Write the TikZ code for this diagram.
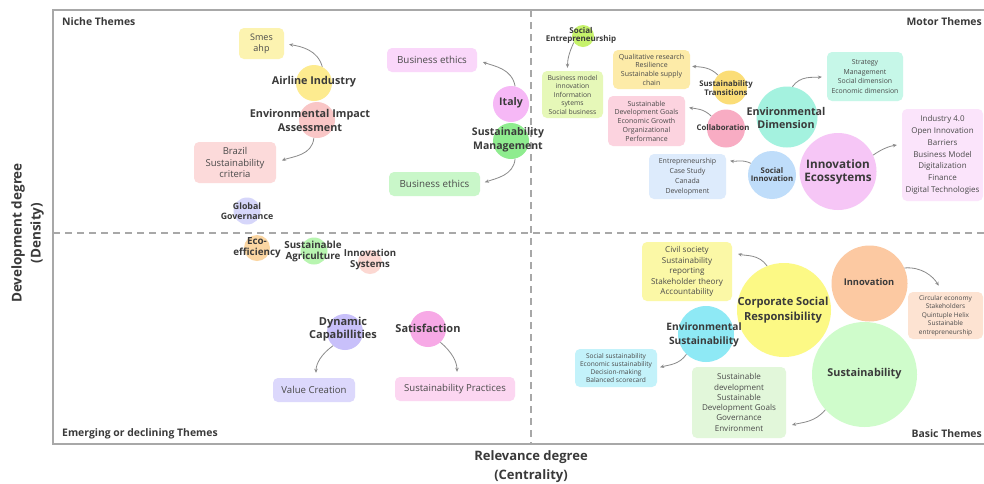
\documentclass[tikz,border=0pt]{standalone}
\usepackage{fontspec}
\setmainfont{Open Sans}
\usetikzlibrary{arrows.meta}
\definecolor{txtc}{HTML}{3A3A3A}
\definecolor{boxtxt}{HTML}{4A4A4A}
\definecolor{framec}{HTML}{A8A8A8}
\definecolor{arrc}{HTML}{8A8A8A}
\definecolor{cSmes}{HTML}{FCF3B0}
\definecolor{cAir}{HTML}{FDEB8F}
\definecolor{cEia}{HTML}{F9C6C6}
\definecolor{cBrazil}{HTML}{FCDADA}
\definecolor{cGG}{HTML}{D6D6FA}
\definecolor{cBeA}{HTML}{FAD7FA}
\definecolor{cItaly}{HTML}{F6B8F6}
\definecolor{cSM}{HTML}{8FEC8F}
\definecolor{cBeB}{HTML}{C9F7C9}
\definecolor{cSocEnt}{HTML}{C6F26B}
\definecolor{cSocEntB}{HTML}{E6F8B8}
\definecolor{cQual}{HTML}{FDEBA8}
\definecolor{cST}{HTML}{FBDD77}
\definecolor{cSDG}{HTML}{FCD3DF}
\definecolor{cCollab}{HTML}{F8ACC3}
\definecolor{cEnvDim}{HTML}{A4F2DF}
\definecolor{cStrat}{HTML}{C6F7E8}
\definecolor{cSocInn}{HTML}{BFDDFA}
\definecolor{cEntre}{HTML}{DDEBFC}
\definecolor{cInnoEco}{HTML}{F6C6F6}
\definecolor{cIndus}{HTML}{FBE4FB}
\definecolor{cEco}{HTML}{FBD6A2}
\definecolor{cSA}{HTML}{B8F5B0}
\definecolor{cIS}{HTML}{FCD8D2}
\definecolor{cDyn}{HTML}{C8C0FA}
\definecolor{cValue}{HTML}{DCD8FC}
\definecolor{cSat}{HTML}{F7A9E6}
\definecolor{cSP}{HTML}{FCD6F1}
\definecolor{cCivil}{HTML}{FBF8A6}
\definecolor{cCSR}{HTML}{FCF985}
\definecolor{cEnvSus}{HTML}{8EE9F5}
\definecolor{cSocSus}{HTML}{C3F2FA}
\definecolor{cSDev}{HTML}{E2F7DA}
\definecolor{cInnov}{HTML}{FCC9A2}
\definecolor{cCirc}{HTML}{FDE3D2}
\definecolor{cSust}{HTML}{CFFCCB}
\newcommand{\fsz}[2]{\fontsize{#1}{#2}\selectfont}
\tikzset{
  bub/.style={circle, inner sep=0pt, minimum size=#1, draw=none},
  lab/.style={text=txtc, align=center, inner sep=0pt},
  tbox/.style={rounded corners=5pt, align=center, text=boxtxt, inner sep=0pt},
  arr/.style={-{Stealth[length=4pt,width=3.5pt]}, draw=arrc, line width=0.8pt},
  ttl/.style={text=txtc, inner sep=0pt, font=\bfseries\fsz{10.4}{12}},
  quadline/.style={draw=framec, line width=1.3pt, dash pattern=on 7pt off 5pt},
}
\begin{document}
\begin{tikzpicture}[x=1pt,y=-1pt]
\useasboundingbox (0,0) rectangle (984,483);
\fill[white] (0,0) rectangle (984,483);
% frame
\draw[framec, line width=1.5pt] (984,10) -- (53,10) -- (53,444) -- (984,444);
\draw[quadline] (53,233) -- (984,233);
\draw[quadline] (531,10) -- (531,444);
% titles
\node[ttl, anchor=west] (tNiche) at (62,22) {Niche Themes};
\node[ttl, anchor=east] (tMotor) at (982,22) {Motor Themes};
\node[ttl, anchor=west] (tEmerg) at (62,434) {Emerging or declining Themes};
\node[ttl, anchor=east] (tBasic) at (982,434) {Basic Themes};
\node[lab, rotate=90, font=\bfseries\fsz{13.5}{19}] (yax) at (27.5,233) {Development degree\\(Density)};
\node[lab, font=\bfseries\fsz{13}{19}] (xax) at (531,467) {Relevance degree\\(Centrality)};

% ---------- boxes ----------
\node[tbox, fill=cSmes, minimum width=45pt, minimum height=31pt, font=\fsz{9}{11}] (smes) at (261.5,43.5) {Smes\\ahp};
\node[tbox, fill=cBrazil, minimum width=82pt, minimum height=41pt, font=\fsz{9.5}{11.5}] (brazil) at (235,162.5) {Brazil\\Sustainability\\criteria};
\node[tbox, fill=cBeA, minimum width=90pt, minimum height=24pt, font=\fsz{9.8}{11}] (beA) at (432,60) {Business ethics};
\node[tbox, fill=cBeB, minimum width=91pt, minimum height=24pt, font=\fsz{9.8}{11}] (beB) at (434.5,184) {Business ethics};
\node[tbox, fill=cSocEntB, minimum width=61pt, minimum height=47pt, font=\fsz{6.8}{8.5}] (socentB) at (572.5,94.5) {Business model\\innovation\\Information\\sytems\\Social business};
\node[tbox, fill=cQual, minimum width=77pt, minimum height=39pt, font=\fsz{7}{8.7}] (qual) at (651.5,69.5) {Qualitative research\\Resilience\\Sustainable supply\\chain};
\node[tbox, fill=cSDG, minimum width=77pt, minimum height=50pt, font=\fsz{7}{8.8}] (sdg) at (646.5,121) {Sustainable\\Development Goals\\Economic Growth\\Organizational\\Performance};
\node[tbox, fill=cStrat, minimum width=76pt, minimum height=49pt, font=\fsz{6.9}{9.8}] (strat) at (865,76.5) {Strategy\\Management\\Social dimension\\Economic dimension};
\node[tbox, fill=cEntre, minimum width=77pt, minimum height=45pt, font=\fsz{7}{10}] (entre) at (687.5,176.5) {Entrepreneurship\\Case Study\\Canada\\Development};
\node[tbox, fill=cIndus, minimum width=81pt, minimum height=92pt, font=\fsz{8}{11.8}] (indus) at (942.5,155) {Industry 4.0\\Open Innovation\\Barriers\\Business Model\\Digitalization\\Finance\\Digital Technologies};
\node[tbox, fill=cValue, minimum width=82pt, minimum height=24pt, font=\fsz{9.6}{11}] (value) at (314,390) {Value Creation};
\node[tbox, fill=cSP, minimum width=120pt, minimum height=24pt, font=\fsz{9.6}{11}] (sp) at (455,389) {Sustainability Practices};
\node[tbox, fill=cCivil, minimum width=90pt, minimum height=59pt, font=\fsz{8.1}{10.4}] (civil) at (687,271.5) {Civil society\\Sustainability\\reporting\\Stakeholder theory\\Accountability};
\node[tbox, fill=cSocSus, minimum width=82pt, minimum height=38pt, font=\fsz{6.6}{8.3}] (socsus) at (616,368) {Social sustainability\\Economic sustainability\\Decision-making\\Balanced scorecard};
\node[tbox, fill=cSDev, minimum width=94pt, minimum height=71pt, font=\fsz{8.1}{10.3}] (sdev) at (739,402.5) {Sustainable\\development\\Sustainable\\Development Goals\\Governance\\Environment};
\node[tbox, fill=cCirc, minimum width=75pt, minimum height=47pt, font=\fsz{6.5}{8.5}] (circ) at (945.5,315.5) {Circular economy\\Stakeholders\\Quintuple Helix\\Sustainable\\entrepreneurship};

% ---------- circles ----------
\node[bub=36pt, fill=cAir] (airC) at (314,83) {};
\node[bub=36pt, fill=cEia] (eiaC) at (317,120) {};
\node[bub=27pt, fill=cGG] (ggC) at (247,211) {};
\node[bub=36pt, fill=cItaly] (italyC) at (511,104) {};
\node[bub=36pt, fill=cSM] (smC) at (511,141) {};
\node[bub=22pt, fill=cSocEnt] (socentC) at (583,36) {};
\node[bub=34pt, fill=cST] (stC) at (730,87.5) {};
\node[bub=38pt, fill=cCollab] (collabC) at (726,128.5) {};
\node[bub=61pt, fill=cEnvDim] (envdimC) at (787,117) {};
\node[bub=48pt, fill=cSocInn] (socinnC) at (772,175) {};
\node[bub=77pt, fill=cInnoEco] (innoecoC) at (838,171.5) {};
\node[bub=26pt, fill=cEco] (ecoC) at (257,248) {};
\node[bub=27pt, fill=cSA] (saC) at (314,251) {};
\node[bub=24pt, fill=cIS] (isC) at (370,262) {};
\node[bub=36pt, fill=cDyn] (dynC) at (345,332) {};
\node[bub=36pt, fill=cSat] (satC) at (428,329) {};
\node[bub=94pt, fill=cCSR] (csrC) at (784,310) {};
\node[bub=56pt, fill=cEnvSus] (envsusC) at (706,334) {};
\node[bub=76pt, fill=cInnov] (innovC) at (869.5,283.5) {};
\node[bub=105pt, fill=cSust] (sustC) at (864.5,374.5) {};

% ---------- circle labels ----------
\node[lab, font=\bfseries\fsz{10.8}{12}] (airL) at (314,82) {Airline Industry};
\node[lab, font=\bfseries\fsz{10.8}{14}] (eiaL) at (310,120) {Environmental Impact\\Assessment};
\node[lab, font=\bfseries\fsz{8.8}{10}] (ggL) at (247,211) {Global\\Governance};
\node[lab, font=\bfseries\fsz{10.5}{12}] (italyL) at (511,103) {Italy};
\node[lab, font=\bfseries\fsz{10.5}{13.5}] (smL) at (508,140) {Sustainability\\Management};
\node[lab, font=\bfseries\fsz{8}{8}] (socentL) at (581,35) {Social\\Entrepreneurship};
\node[lab, font=\bfseries\fsz{7.8}{8.5}] (stL) at (726,88) {Sustainability\\Transitions};
\node[lab, font=\bfseries\fsz{7.8}{9}] (collabL) at (723,128) {Collaboration};
\node[lab, font=\bfseries\fsz{10.7}{12.5}] (envdimL) at (786,118) {Environmental\\Dimension};
\node[lab, font=\bfseries\fsz{7.8}{8}] (socinnL) at (772,175) {Social\\Innovation};
\node[lab, font=\bfseries\fsz{11.7}{13}] (innoecoL) at (838,171.5) {Innovation\\Ecossytems};
\node[lab, font=\bfseries\fsz{9.8}{11}] (ecoL) at (257,248) {Eco-\\efficiency};
\node[lab, font=\bfseries\fsz{9.8}{11}] (saL) at (313,251.5) {Sustainable\\Agriculture};
\node[lab, font=\bfseries\fsz{9.6}{11}] (isL) at (370,259.5) {Innovation\\Systems};
\node[lab, font=\bfseries\fsz{11}{13}] (dynL) at (343,329.5) {Dynamic\\Capabillities};
\node[lab, font=\bfseries\fsz{11}{12}] (satL) at (428,328) {Satisfaction};
\node[lab, font=\bfseries\fsz{11.1}{14.5}] (csrL) at (783,310) {Corporate Social\\Responsibility};
\node[lab, font=\bfseries\fsz{10.2}{14}] (envsusL) at (704,335) {Environmental\\Sustainability};
\node[lab, font=\bfseries\fsz{9.3}{12}] (innovL) at (869,282) {Innovation};
\node[lab, font=\bfseries\fsz{10.8}{13}] (sustL) at (864.5,373.5) {Sustainability};

% ---------- connectors ----------
\draw[arr, shorten >=5pt] (airC.63) to[out=105, in=-10] (smes.east);
\draw[arr, shorten >=6pt] (eiaC.-100) to[out=-95, in=20] (brazil.east);
\draw[arr, shorten >=6pt] (italyC.77) to[out=100, in=-20] (beA.east);
\draw[arr, shorten >=5pt] (smC.-77) to[out=-95, in=20] (beB.east);
\draw[arr, shorten >=3pt] (socentC.215) to[out=-115, in=90] ([xshift=-5pt]socentB.north);
\draw[arr, shorten >=2pt] (stC.134) to[out=135, in=-5] (qual.5);
\draw[arr, shorten >=4pt] (collabC.140) to[out=135, in=-10] (sdg.20);
\draw[arr, shorten >=5pt] (envdimC.80) to[out=55, in=185] (strat.west);
\draw[arr, shorten >=4pt] (socinnC.151) to[out=155, in=-10] (entre.23);
\draw[arr, shorten >=5pt] (innoecoC.25) to[out=35, in=190] (indus.165);
\draw[arr, shorten >=5pt] (dynC.229) to[out=-145, in=90] ([xshift=2pt]value.north);
\draw[arr, shorten >=5pt] (satC.-47) to[out=-40, in=90] ([xshift=2pt]sp.north);
\draw[arr, shorten >=6pt] (csrC.111) to[out=125, in=-15] (civil.23);
\draw[arr, shorten >=3pt] (envsusC.226) to[out=-125, in=15] (socsus.east);
\draw[arr, shorten >=7pt] (innovC.24) to[out=5, in=120] (circ.98);
\draw[arr, shorten >=6pt] (sustC.222) to[out=-130, in=15] (sdev.-27);
\end{tikzpicture}
\end{document}
